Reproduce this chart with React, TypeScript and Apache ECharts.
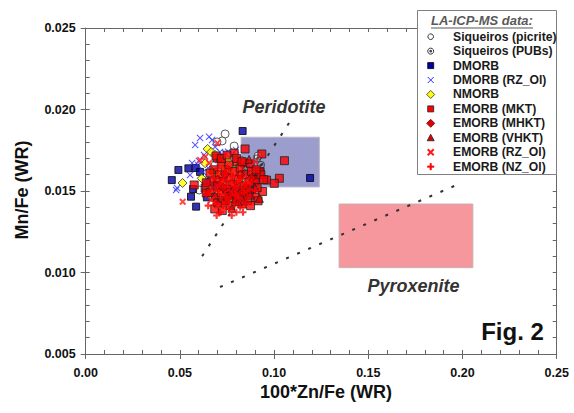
import React, { useEffect, useRef } from "react";
import * as echarts from "echarts";

// ---------- data ----------
const xTickStep = 0.05;
const yTickStep = 0.005;
const xRange = [0, 0.25];
const yRange = [0.005, 0.025];

const seriesNames = [
  "Siqueiros (picrite)",
  "Siqueiros (PUBs)",
  "DMORB",
  "DMORB (RZ_Ol)",
  "NMORB",
  "EMORB (MKT)",
  "EMORB (MHKT)",
  "EMORB (VHKT)",
  "EMORB (RZ_Ol)",
  "EMORB (NZ_Ol)",
];

const siqueirosPicrite = [
  [0.074, 0.0185], [0.0724, 0.01807], [0.0788, 0.01776], [0.0915, 0.01715], [0.0602, 0.01506],
  [0.0697, 0.01801], [0.082, 0.0169], [0.0756, 0.01629], [0.0873, 0.01598], [0.0687, 0.0166],
  [0.0851, 0.01641], [0.0798, 0.01537],
];
const siqueirosPUBs = [
  [0.085, 0.0163], [0.09, 0.0158], [0.08, 0.0156], [0.093, 0.0166], [0.078, 0.015], [0.088, 0.0151], [0.091, 0.017],
];
const dmorb = [
  [0.0833, 0.01868], [0.1191, 0.0158], [0.0492, 0.01629], [0.0457, 0.01567], [0.0545, 0.01639],
  [0.0584, 0.01641], [0.0559, 0.01465], [0.0586, 0.01404], [0.057, 0.01512], [0.0643, 0.01461],
  [0.0883, 0.01506], [0.0894, 0.01574], [0.0607, 0.01617], [0.0687, 0.01537], [0.0766, 0.01494],
  [0.0835, 0.01475], [0.0639, 0.01555],
];
const dmorbRZ = [
  [0.0581, 0.01782], [0.0607, 0.01825], [0.0655, 0.01833], [0.0671, 0.01813], [0.0596, 0.0166],
  [0.0565, 0.01672], [0.0713, 0.01739], [0.074, 0.01733], [0.0756, 0.01741], [0.0628, 0.01721],
  [0.0485, 0.01518], [0.048, 0.01506], [0.0623, 0.01617], [0.0634, 0.01567], [0.066, 0.01537],
  [0.0687, 0.0177], [0.0777, 0.01721], [0.0798, 0.01752], [0.065, 0.01641], [0.0601, 0.01684],
  [0.0703, 0.0169], [0.0554, 0.01598],
];
const nmorb = [
  [0.0514, 0.01549], [0.0647, 0.01758], [0.0666, 0.01739], [0.0687, 0.01721], [0.0728, 0.01649],
  [0.0671, 0.01618], [0.0634, 0.0167], [0.0713, 0.017], [0.0754, 0.0169], [0.0616, 0.01578],
  [0.0696, 0.01609], [0.0713, 0.01506], [0.0766, 0.01445], [0.082, 0.01567], [0.0777, 0.01641],
  [0.066, 0.01475],
];
const emorbMKT = [
  [0.0846, 0.01758], [0.0935, 0.01727], [0.1055, 0.01686], [0.096, 0.01567], [0.1028, 0.01578],
  [0.1001, 0.01547], [0.0939, 0.01497], [0.0926, 0.01618], [0.0698, 0.01702], [0.0788, 0.01733],
  [0.0804, 0.01678], [0.0841, 0.01672], [0.0873, 0.01666], [0.0921, 0.01617], [0.0899, 0.01555],
  [0.0634, 0.01518], [0.064, 0.01488], [0.0576, 0.01537], [0.0692, 0.01715], [0.0719, 0.01678],
  [0.068, 0.0163], [0.071, 0.016], [0.074, 0.0163], [0.076, 0.0166], [0.079, 0.0162], [0.082, 0.0164],
  [0.085, 0.016], [0.088, 0.0162], [0.09, 0.0157], [0.067, 0.0156], [0.07, 0.0153], [0.073, 0.0156],
  [0.076, 0.0158], [0.078, 0.0154], [0.081, 0.0157], [0.084, 0.0153], [0.087, 0.0155], [0.091, 0.0152],
  [0.066, 0.0149], [0.069, 0.0146], [0.072, 0.0149], [0.075, 0.0151], [0.078, 0.0147], [0.081, 0.015],
  [0.084, 0.0147], [0.087, 0.0149], [0.09, 0.0146], [0.07, 0.0143], [0.074, 0.0144], [0.077, 0.0141],
  [0.08, 0.0144], [0.083, 0.0142], [0.086, 0.0144], [0.072, 0.017], [0.075, 0.0172], [0.08, 0.017],
  [0.083, 0.0168], [0.066, 0.0161], [0.064, 0.0155], [0.093, 0.016], [0.0915, 0.0144], [0.0905, 0.0163],
  [0.0945, 0.0157], [0.0875, 0.0141], [0.0685, 0.0139], [0.0725, 0.0138],
];
const emorbMHKT = [
  [0.074, 0.016], [0.08, 0.0152], [0.085, 0.015], [0.077, 0.0148], [0.07, 0.0157], [0.088, 0.0158],
  [0.082, 0.016], [0.073, 0.0152],
];
const emorbVHKT = [
  [0.0776, 0.01394], [0.0922, 0.01455], [0.0731, 0.0144], [0.0793, 0.01451], [0.0837, 0.01439],
  [0.0867, 0.01694], [0.0809, 0.01434], [0.0703, 0.01426], [0.075, 0.01469], [0.0873, 0.01475],
  [0.082, 0.01494], [0.0899, 0.01518], [0.0687, 0.01475], [0.0851, 0.01537],
];
const emorbRZ = [
  [0.0515, 0.01434], [0.0701, 0.01408], [0.0666, 0.01445], [0.0699, 0.01794], [0.0634, 0.01709],
  [0.0655, 0.01672], [0.0899, 0.0168], [0.0607, 0.0169], [0.072, 0.0165], [0.078, 0.016], [0.085, 0.0156],
];
const emorbNZ = [
  [0.07, 0.015], [0.072, 0.0146], [0.074, 0.0148], [0.076, 0.0145], [0.078, 0.015], [0.08, 0.0147],
  [0.082, 0.0145], [0.084, 0.0149], [0.086, 0.0146], [0.071, 0.0154], [0.073, 0.0157], [0.075, 0.0154],
  [0.077, 0.0156], [0.079, 0.0153], [0.081, 0.0155], [0.083, 0.0152], [0.085, 0.0154], [0.087, 0.0151],
  [0.069, 0.0142], [0.073, 0.0141], [0.076, 0.0139], [0.079, 0.0142], [0.082, 0.014], [0.085, 0.0142],
  [0.074, 0.0161], [0.078, 0.0159], [0.082, 0.0158], [0.068, 0.0158], [0.067, 0.0152], [0.088, 0.0156],
  [0.09, 0.015], [0.0715, 0.0137], [0.0775, 0.0135], [0.08, 0.0137], [0.0745, 0.0143], [0.0795, 0.0148],
  [0.0705, 0.0164], [0.076, 0.0163], [0.064, 0.0148], [0.065, 0.0141], [0.0695, 0.0135], [0.0835, 0.0137],
];

// trend lines and fields
const peridotiteLine = [[0.0618, 0.011], [0.109, 0.01936]];
const pyroxeniteLine = [[0.0713, 0.00911], [0.1993, 0.01549]];
const peridotiteField = [[0.0825, 0.01525], [0.124, 0.0183]];
const pyroxeniteField = [[0.1345, 0.0103], [0.2055, 0.0142]];

// ---------- symbols ----------
const SQ = "path://M0,0 L10,0 L10,10 L0,10 Z";
const DIA = "path://M5,0 L10,5 L5,10 L0,5 Z";
const TRI = "path://M5,0 L10,10 L0,10 Z";
const CIR = "path://M5,0 A5,5 0 1 1 5,10 A5,5 0 1 1 5,0 Z";
const PUB =
  "path://M5,0 A5,5 0 1 1 5,10 A5,5 0 1 1 5,0 Z M5,1.4 A3.6,3.6 0 1 0 5,8.6 A3.6,3.6 0 1 0 5,1.4 Z M5,2.8 L7.2,5 L5,7.2 L2.8,5 Z";
const XTHIN = "path://M1,0 L5,4 L9,0 L10,1 L6,5 L10,9 L9,10 L5,6 L1,10 L0,9 L4,5 L0,1 Z";
const XTHICK = "path://M2,0 L5,3 L8,0 L10,2 L7,5 L10,8 L8,10 L5,7 L2,10 L0,8 L3,5 L0,2 Z";
const PLUS = "path://M3.5,0 L6.5,0 L6.5,3.5 L10,3.5 L10,6.5 L6.5,6.5 L6.5,10 L3.5,10 L3.5,6.5 L0,6.5 L0,3.5 L3.5,3.5 Z";

const FONT = "'Liberation Sans', Arial, Helvetica, sans-serif";

function legendMarker(i: number, cx: number, cy: number): any[] {
  const z = 21;
  switch (i) {
    case 0:
      return [{ type: "circle", z, shape: { cx, cy, r: 2.8 }, style: { fill: "#fff", stroke: "#333", lineWidth: 1 } }];
    case 1:
      return [
        { type: "circle", z, shape: { cx, cy, r: 3 }, style: { fill: "#fff", stroke: "#333", lineWidth: 1 } },
        { type: "circle", z, shape: { cx, cy, r: 1.4 }, style: { fill: "#444" } },
      ];
    case 2:
      return [{ type: "rect", z, shape: { x: cx - 3, y: cy - 3, width: 6, height: 6 }, style: { fill: "#0000a8", stroke: "#000", lineWidth: 0.8 } }];
    case 3:
      return [
        { type: "line", z, shape: { x1: cx - 3, y1: cy - 3, x2: cx + 3, y2: cy + 3 }, style: { stroke: "#2a2aff", lineWidth: 1 } },
        { type: "line", z, shape: { x1: cx - 3, y1: cy + 3, x2: cx + 3, y2: cy - 3 }, style: { stroke: "#2a2aff", lineWidth: 1 } },
      ];
    case 4:
      return [{ type: "polygon", z, shape: { points: [[cx, cy - 4], [cx + 4, cy], [cx, cy + 4], [cx - 4, cy]] }, style: { fill: "#ffff00", stroke: "#333", lineWidth: 0.8 } }];
    case 5:
      return [{ type: "rect", z, shape: { x: cx - 3, y: cy - 3, width: 6, height: 6 }, style: { fill: "#ff0000", stroke: "#222", lineWidth: 0.8 } }];
    case 6:
      return [{ type: "polygon", z, shape: { points: [[cx, cy - 4], [cx + 4, cy], [cx, cy + 4], [cx - 4, cy]] }, style: { fill: "#e00000", stroke: "#6a0000", lineWidth: 0.8 } }];
    case 7:
      return [{ type: "polygon", z, shape: { points: [[cx, cy - 3.5], [cx + 3.5, cy + 3], [cx - 3.5, cy + 3]] }, style: { fill: "#e00000", stroke: "#222", lineWidth: 0.8 } }];
    case 8:
      return [
        { type: "line", z, shape: { x1: cx - 3, y1: cy - 3, x2: cx + 3, y2: cy + 3 }, style: { stroke: "#ff1a1a", lineWidth: 2 } },
        { type: "line", z, shape: { x1: cx - 3, y1: cy + 3, x2: cx + 3, y2: cy - 3 }, style: { stroke: "#ff1a1a", lineWidth: 2 } },
      ];
    default:
      return [
        { type: "line", z, shape: { x1: cx - 3.5, y1: cy, x2: cx + 3.5, y2: cy }, style: { stroke: "#ff0000", lineWidth: 2 } },
        { type: "line", z, shape: { x1: cx, y1: cy - 3.5, x2: cx, y2: cy + 3.5 }, style: { stroke: "#ff0000", lineWidth: 2 } },
      ];
  }
}

export default function App() {
  const ref = useRef<HTMLDivElement>(null);

  useEffect(() => {
    document.body.style.margin = "0";
    if (!ref.current) return;
    const chart = echarts.init(ref.current, null, { renderer: "svg" });

    const axisColor = "#666";
    const labelStyle = { fontFamily: FONT, fontWeight: "bold" as const, fontSize: 12.5, color: "#111" };

    const scatter = (name: string, data: number[][], symbol: string, size: number, itemStyle: any) => ({
      name,
      type: "scatter",
      data,
      symbol,
      symbolSize: size,
      itemStyle,
      z: 3,
      silent: true,
    });

    const legendItems: any[] = [];
    seriesNames.forEach((name, i) => {
      const cy = 36.7 + i * 14.44;
      legendItems.push(...legendMarker(i, 430.7, cy));
      legendItems.push({
        type: "text", z: 21, x: 453, y: cy,
        style: { text: name, fontFamily: FONT, fontWeight: "bold", fontSize: 12.2, lineHeight: 13, fill: "#1a1a1a", align: "left", verticalAlign: "middle", textAlign: "left", textVerticalAlign: "middle" },
      });
    });

    const option: any = {
      animation: false,
      grid: { left: 85.7, right: 17.3, top: 28, bottom: 59, containLabel: false },
      xAxis: [
        {
          type: "value", position: "bottom", min: xRange[0], max: xRange[1], interval: xTickStep,
          axisLine: { show: true, onZero: false, lineStyle: { color: axisColor, width: 1 } },
          axisTick: { show: true, inside: false, length: 5, lineStyle: { color: axisColor } },
          axisLabel: { ...labelStyle, margin: 12, formatter: (v: number) => v.toFixed(2) },
          splitLine: { show: false },
        },
        {
          type: "value", position: "bottom", min: xRange[0], max: xRange[1], interval: 0.01,
          axisLine: { show: false, onZero: false },
          axisTick: { show: true, inside: true, length: 4, lineStyle: { color: axisColor } },
          axisLabel: { show: false }, splitLine: { show: false },
        },
        {
          type: "value", position: "top", min: xRange[0], max: xRange[1], interval: 0.01,
          axisLine: { show: true, onZero: false, lineStyle: { color: axisColor, width: 1 } },
          axisTick: { show: true, inside: true, length: 4, lineStyle: { color: axisColor } },
          axisLabel: { show: false }, splitLine: { show: false },
        },
      ],
      yAxis: [
        {
          type: "value", position: "left", min: yRange[0], max: yRange[1], interval: yTickStep,
          axisLine: { show: true, onZero: false, lineStyle: { color: axisColor, width: 1 } },
          axisTick: { show: true, inside: false, length: 5, lineStyle: { color: axisColor } },
          axisLabel: { ...labelStyle, margin: 10, formatter: (v: number) => v.toFixed(3) },
          splitLine: { show: false },
        },
        {
          type: "value", position: "left", min: yRange[0], max: yRange[1], interval: 0.001,
          axisLine: { show: false, onZero: false },
          axisTick: { show: true, inside: true, length: 4, lineStyle: { color: axisColor } },
          axisLabel: { show: false }, splitLine: { show: false },
        },
        {
          type: "value", position: "right", min: yRange[0], max: yRange[1], interval: 0.001,
          axisLine: { show: true, onZero: false, lineStyle: { color: axisColor, width: 1 } },
          axisTick: { show: true, inside: true, length: 4, lineStyle: { color: axisColor } },
          axisLabel: { show: false }, splitLine: { show: false },
        },
      ],
      graphic: [
        { type: "rect", z: 10, shape: { x: 417.5, y: 10.5, width: 139, height: 164 }, style: { fill: "#fff", stroke: "#808080", lineWidth: 1 } },
        { type: "text", z: 21, x: 431, y: 20, style: { text: "LA-ICP-MS data:", fontFamily: FONT, fontWeight: "bold", fontStyle: "italic", fontSize: 13, lineHeight: 14, fill: "#595959", align: "left", verticalAlign: "middle", textAlign: "left", textVerticalAlign: "middle" } },
        { type: "line", z: 21, shape: { x1: 431, y1: 28, x2: 533, y2: 28 }, style: { stroke: "#595959", lineWidth: 1.2 } },
        ...legendItems,
        { type: "text", z: 5, x: 284, y: 107, style: { text: "Peridotite", fontFamily: FONT, fontWeight: "bold", fontStyle: "italic", fontSize: 18, fill: "#333", align: "center", verticalAlign: "middle", textAlign: "center", textVerticalAlign: "middle" } },
        { type: "text", z: 5, x: 413.5, y: 286, style: { text: "Pyroxenite", fontFamily: FONT, fontWeight: "bold", fontStyle: "italic", fontSize: 18, fill: "#333", align: "center", verticalAlign: "middle", textAlign: "center", textVerticalAlign: "middle" } },
        { type: "text", z: 5, x: 512.5, y: 331, style: { text: "Fig. 2", fontFamily: FONT, fontWeight: "bold", fontSize: 24, fill: "#111", align: "center", verticalAlign: "middle", textAlign: "center", textVerticalAlign: "middle" } },
        { type: "text", z: 5, x: 326, y: 392, style: { text: "100*Zn/Fe (WR)", fontFamily: FONT, fontWeight: "bold", fontSize: 18, fill: "#111", align: "center", verticalAlign: "middle", textAlign: "center", textVerticalAlign: "middle" } },
        { type: "text", z: 5, x: 22, y: 190, rotation: Math.PI / 2, style: { text: "Mn/Fe (WR)", fontFamily: FONT, fontWeight: "bold", fontSize: 18, fill: "#111", align: "center", verticalAlign: "middle", textAlign: "center", textVerticalAlign: "middle" } },
      ],
      series: [
        {
          name: "fields",
          type: "line",
          data: [],
          z: 0,
          silent: true,
          markArea: {
            silent: true,
            data: [
              [
                { xAxis: peridotiteField[0][0], yAxis: peridotiteField[0][1], itemStyle: { color: "#9b9dcc", borderColor: "#b8b8c8", borderWidth: 1 } },
                { xAxis: peridotiteField[1][0], yAxis: peridotiteField[1][1] },
              ],
              [
                { xAxis: pyroxeniteField[0][0], yAxis: pyroxeniteField[0][1], itemStyle: { color: "#f5979c", borderColor: "#c8b0b0", borderWidth: 1 } },
                { xAxis: pyroxeniteField[1][0], yAxis: pyroxeniteField[1][1] },
              ],
            ],
          },
        },
        {
          name: "peridotite trend", type: "line", data: peridotiteLine, showSymbol: false, symbol: "none", z: 1, silent: true,
          lineStyle: { color: "#333", width: 2, type: [3, 9] },
        },
        {
          name: "pyroxenite trend", type: "line", data: pyroxeniteLine, showSymbol: false, symbol: "none", z: 1, silent: true,
          lineStyle: { color: "#333", width: 2, type: [3, 9] },
        },
        scatter(seriesNames[0], siqueirosPicrite, CIR, 8, { color: "#fff", borderColor: "#333", borderWidth: 1 }),
        scatter(seriesNames[1], siqueirosPUBs, PUB, 8, { color: "#333", borderWidth: 0 }),
        scatter(seriesNames[2], dmorb, SQ, 7, { color: "#0000a8", borderColor: "#000", borderWidth: 1 }),
        scatter(seriesNames[3], dmorbRZ, XTHIN, 7, { color: "#2a2aff", borderWidth: 0 }),
        scatter(seriesNames[4], nmorb, DIA, 9, { color: "#ffff00", borderColor: "#333", borderWidth: 1 }),
        scatter(seriesNames[5], emorbMKT, SQ, 8, { color: "#ff0000", borderColor: "#222", borderWidth: 1 }),
        scatter(seriesNames[6], emorbMHKT, DIA, 9, { color: "#e00000", borderColor: "#6a0000", borderWidth: 1 }),
        scatter(seriesNames[7], emorbVHKT, TRI, 8, { color: "#e00000", borderColor: "#222", borderWidth: 1 }),
        scatter(seriesNames[8], emorbRZ, XTHICK, 7, { color: "#ff1a1a", borderWidth: 0 }),
        scatter(seriesNames[9], emorbNZ, PLUS, 7, { color: "#ff0000", borderWidth: 0 }),
      ],
    };

    chart.setOption(option);
    return () => chart.dispose();
  }, []);

  return <div ref={ref} style={{ width: 574, height: 413 }} />;
}
